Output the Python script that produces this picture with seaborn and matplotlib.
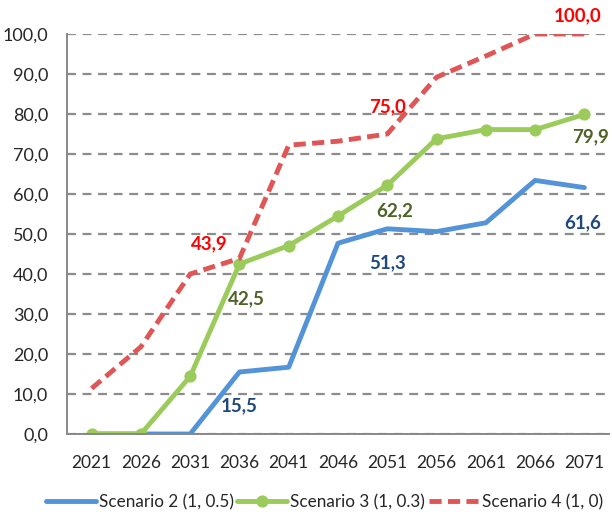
import matplotlib
matplotlib.use("Agg")
import matplotlib.pyplot as plt
import seaborn as sns
import pandas as pd
from matplotlib.ticker import FixedLocator

years = ["2021", "2026", "2031", "2036", "2041", "2046", "2051", "2056", "2061", "2066", "2071"]
scen2 = [0.0, 0.0, 0.0, 15.5, 16.7, 47.7, 51.3, 50.6, 52.8, 63.4, 61.6]
scen3 = [0.0, 0.0, 14.4, 42.5, 47.1, 54.5, 62.2, 73.8, 76.1, 76.1, 79.9]
scen4 = [11.4, 21.8, 40.0, 43.9, 72.2, 73.2, 75.0, 89.2, 94.5, 100.0, 100.0]
names = ["Scenario 2 (1, 0.5)", "Scenario 3 (1, 0.3)", "Scenario 4 (1, 0)"]
yticks = [0, 10, 20, 30, 40, 50, 60, 70, 80, 90, 100]

sns.set_style("white")
plt.rcParams['font.family'] = ['Lato', 'DejaVu Sans']

fig = plt.figure(figsize=(6.12, 5.17), dpi=100)
ax = fig.add_axes([67/612, 1-434/517, (609-67)/612, 400/517])

c2, c3, c4 = "#5393D8", "#9BCB5B", "#E05555"
df2 = pd.DataFrame({"year": years, "v": scen2})
df3 = pd.DataFrame({"year": years, "v": scen3})
df4 = pd.DataFrame({"year": years, "v": scen4})

sns.lineplot(data=df2, x="year", y="v", ax=ax, color=c2, lw=3.5, label=names[0], sort=False)
sns.lineplot(data=df3, x="year", y="v", ax=ax, color=c3, lw=3.5, marker="o", markersize=8,
             markeredgecolor=c3, label=names[1], sort=False)
sns.lineplot(data=df4, x="year", y="v", ax=ax, color=c4, lw=3.5, label=names[2], sort=False)
ax.lines[2].set_linestyle((0, (2.5, 1.3)))

ax.set_xlim(-0.5, len(years) - 0.5)
ax.set_ylim(0, 100)
ax.set_yticks(yticks)
ax.set_yticklabels([f"{v:.1f}".replace(".", ",") for v in yticks], fontsize=13)
ax.set_xticks(range(len(years)))
ax.set_xticklabels(years, fontsize=12.5)
ax.xaxis.set_minor_locator(FixedLocator([i - 0.5 for i in range(len(years) + 1)]))
ax.tick_params(axis="x", which="major", length=0, pad=15)
ax.tick_params(axis="x", which="minor", length=4, color="#888888", direction="out", width=1.3)
ax.tick_params(axis="y", which="major", length=7, color="#888888", direction="inout", width=1.3, pad=10)
ax.set_xlabel("")
ax.set_ylabel("")

ax.grid(axis="y", color="#8c8c8c", linestyle=(0, (4, 3)), lw=1.6)
ax.set_axisbelow(True)
for s in ["top", "right"]:
    ax.spines[s].set_visible(False)
for s in ["left", "bottom"]:
    ax.spines[s].set_color("#888888")
    ax.spines[s].set_linewidth(1.4)

def fmt(v):
    return f"{v:.1f}".replace(".", ",")

lab_kw = dict(fontsize=13.5, fontweight="bold", ha="center", va="center", clip_on=False)
# (series, index, dx, dy, color)
label_specs = [
    (scen4, 3, -0.62, 3.6, "#FF0000"),
    (scen4, 6, 0.0, 6.9, "#FF0000"),
    (scen4, 10, -0.14, 4.6, "#FF0000"),
    (scen3, 3, 0.15, -8.75, "#4F6228"),
    (scen3, 6, 0.16, -6.4, "#4F6228"),
    (scen3, 10, 0.12, -5.65, "#4F6228"),
    (scen2, 3, -0.01, -8.4, "#1F497D"),
    (scen2, 6, 0.0, -8.4, "#1F497D"),
    (scen2, 10, -0.04, -8.7, "#1F497D"),
]
for series, i, dx, dy, col in label_specs:
    ax.text(i + dx, series[i] + dy, fmt(series[i]), color=col, **lab_kw)

leg = ax.legend(loc="center", bbox_to_anchor=(0.5 - 0.025, -0.17), ncol=3, frameon=False,
                fontsize=12.3, handlelength=2.9, handletextpad=0.2, columnspacing=0.2)

fig.savefig("out.png", dpi=100)
